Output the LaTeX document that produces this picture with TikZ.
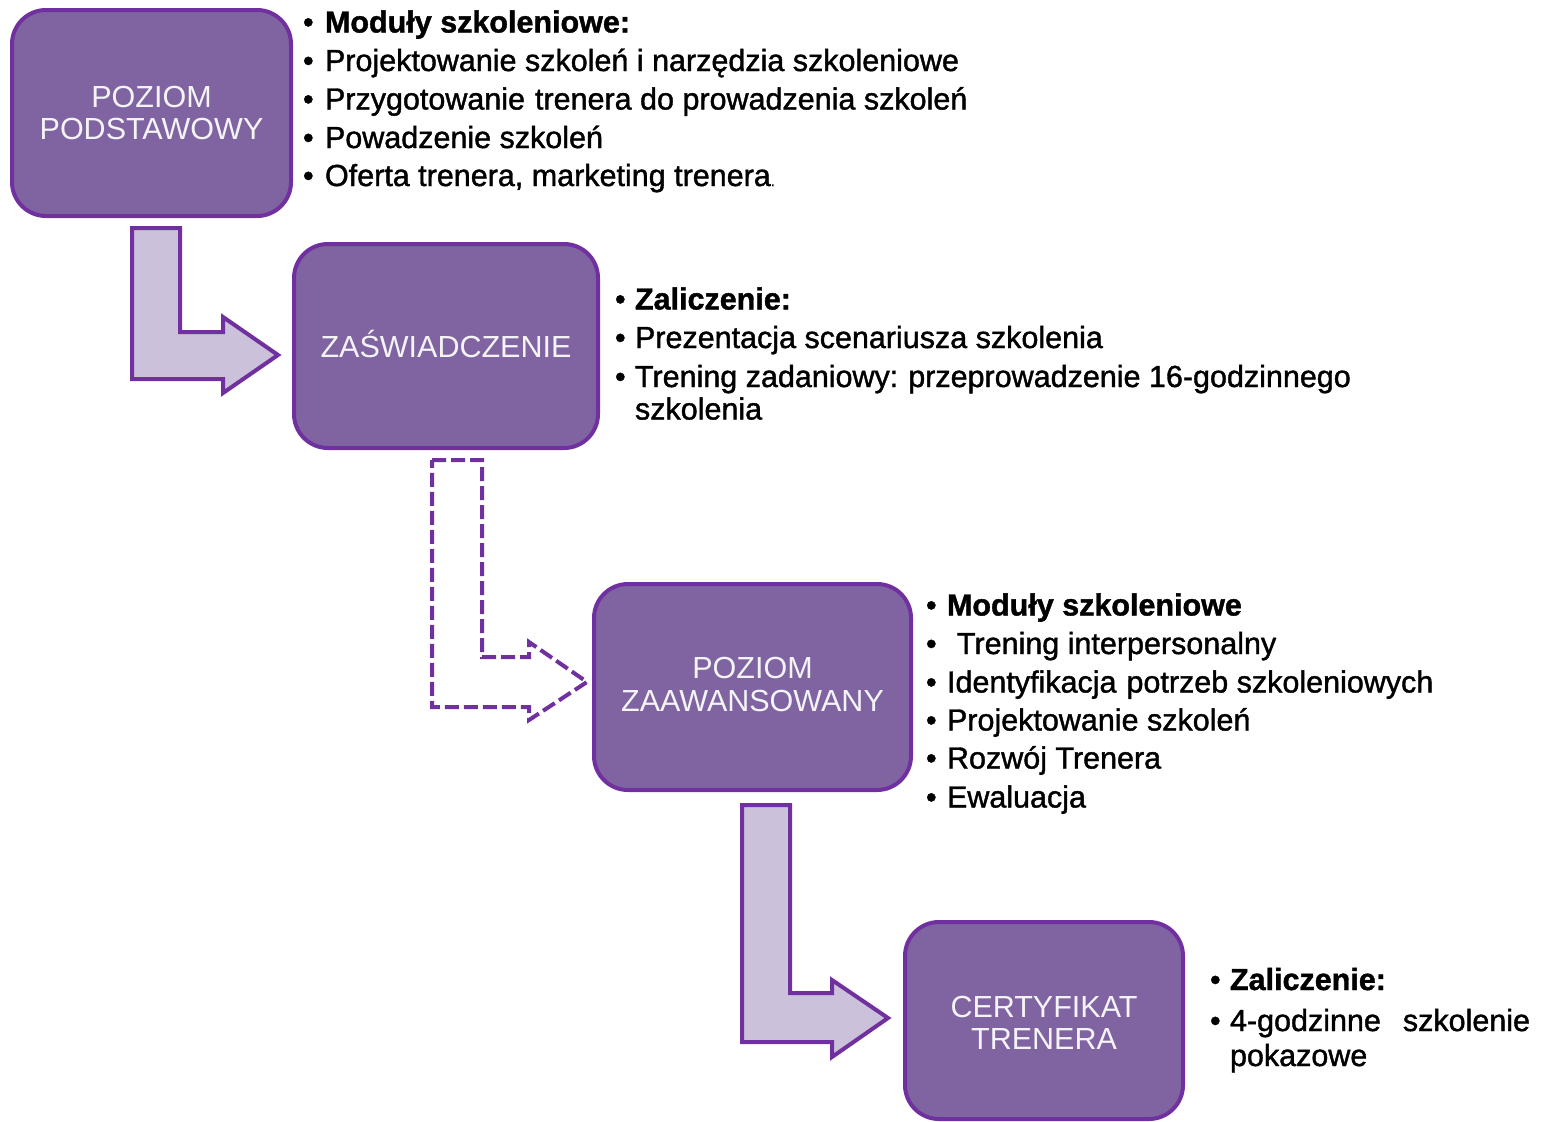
\documentclass[tikz,border=0pt]{standalone}
\usepackage{fontspec}
\setmainfont{Liberation Sans}
\newfontfamily\bodyfont{Liberation Sans}[FakeBold=1.3]
\definecolor{boxfill}{RGB}{128,100,162}
\definecolor{boxline}{RGB}{112,48,160}
\definecolor{arrfill}{RGB}{204,193,218}
\definecolor{boxtext}{RGB}{244,244,246}
\newcommand\li[5]{%
  \node[txt] (#1b) at (#2,#4) {•};
  \node[txt] (#1) at (#3,#4) {#5};}
\begin{document}
\begin{tikzpicture}[x=1pt,y=-1pt,
  stage/.style={draw=boxline, line width=4pt, fill=boxfill, rounded corners=34pt,
    inner sep=0pt, align=center, text=boxtext,
    font=\fontsize{30.5}{32.5}\selectfont},
  txt/.style={anchor=base west, inner sep=0pt, outer sep=0pt,
    font=\bodyfont\fontsize{30.5}{36}\selectfont},
  bendarrow/.style={draw=boxline, line width=4pt, fill=arrfill, line join=miter},
  dasharrow/.style={draw=boxline, line width=4pt, dash pattern=on 14pt off 5pt, line join=miter}
]
\useasboundingbox (0,0) rectangle (1548,1122);
\fill[white] (0,0) rectangle (1548,1122);

% stage boxes
\node[stage, minimum width=279pt, minimum height=206pt] (b1) at (151.5,113) {POZIOM\\PODSTAWOWY};
\node[stage, minimum width=304pt, minimum height=204pt] (b2) at (446,346) {};
\node[stage, draw=none, fill=none, anchor=center] (b2t) at (446,344) {ZAŚWIADCZENIE};
\node[stage, minimum width=317pt, minimum height=206pt] (b3) at (752.5,687) {};
\node[stage, draw=none, fill=none, anchor=center] (b3t) at (752.5,684.5) {POZIOM\\ZAAWANSOWANY};
\node[stage, minimum width=278pt, minimum height=197pt] (b4) at (1044,1020.5) {};
\node[stage, draw=none, fill=none, anchor=center] (b4t) at (1044,1023) {CERTYFIKAT\\TRENERA};

% bent arrows
\draw[bendarrow] (132,228) -- (180,228) -- (180,332) -- (223,332) -- (223,317)
  -- (278,355) -- (223,393) -- (223,379) -- (132,379) -- cycle;
\draw[dasharrow] (432,460) -- (482,460) -- (482,657) -- (529,657) -- (529,642)
  -- (587,682) -- (529,720) -- (529,707) -- (432,707) -- cycle;
\draw[bendarrow] (742,805) -- (790,805) -- (790,993) -- (832,993) -- (832,980)
  -- (888,1018) -- (832,1057) -- (832,1042) -- (742,1042) -- cycle;

% block 1
\li{a1}{303}{325}{32.5}{\bfseries Moduły szkoleniowe:}
\li{a2}{303}{325}{71}{Projektowanie szkoleń i narzędzia szkoleniowe}
\li{a3}{303}{325}{109.5}{Przygotowanie\hspace{10pt}trenera do prowadzenia szkoleń}
\li{a4}{303}{325}{148}{Powadzenie szkoleń}
\li{a5}{303}{325}{186}{Oferta trenera, marketing trenera{\fontsize{14}{14}\selectfont.}}

% block 2
\li{c1}{615}{635}{309.5}{\bfseries Zaliczenie:}
\li{c2}{615}{635}{348}{Prezentacja scenariusza szkolenia}
\li{c3}{615}{635}{387}{Trening zadaniowy:\hspace{10pt}przeprowadzenie 16-godzinnego}
\node[txt] (c4) at (635,419.5) {szkolenia};

% block 3
\li{d1}{926}{947}{615.5}{\bfseries Moduły szkoleniowe}
\li{d2}{926}{957}{654}{Trening interpersonalny}
\li{d3}{926}{947}{692.5}{Identyfikacja\hspace{10pt}potrzeb szkoleniowych}
\li{d4}{926}{947}{730.5}{Projektowanie szkoleń}
\li{d5}{926}{947}{768.5}{Rozwój Trenera}
\li{d6}{926}{947}{807.5}{Ewaluacja}

% block 4
\li{e1}{1210}{1230}{990}{\bfseries Zaliczenie:}
\li{e2}{1210}{1230}{1031}{4-godzinne\hspace{22pt}szkolenie}
\node[txt] (e3) at (1230,1066) {pokazowe};
\end{tikzpicture}
\end{document}
